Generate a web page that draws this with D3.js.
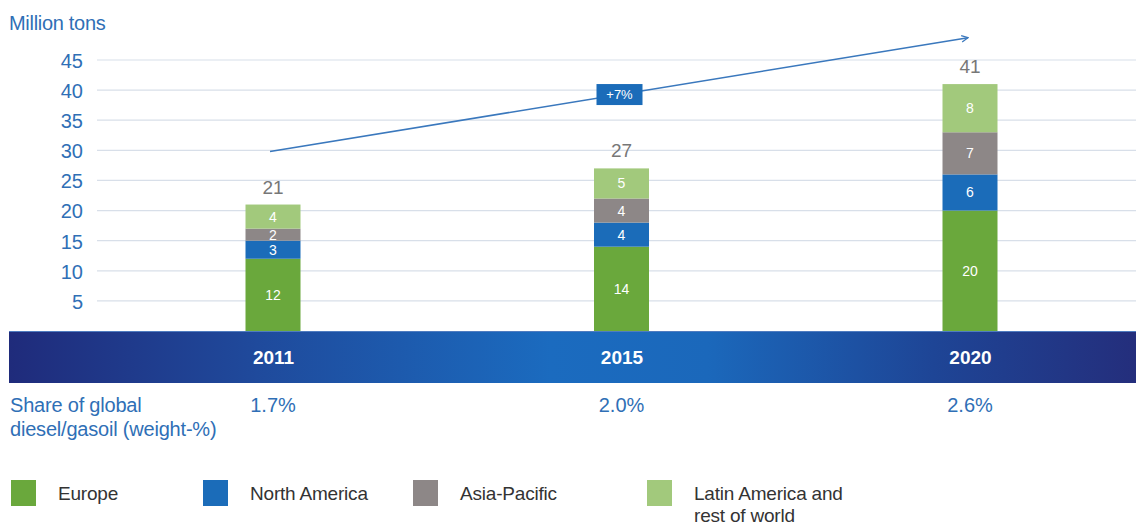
<!DOCTYPE html>
<html>
<head>
<meta charset="utf-8">
<script src="https://cdn.jsdelivr.net/npm/d3@7"></script>
<style>
  html, body { margin: 0; padding: 0; background: #fff; }
  svg { display: block; font-family: "Liberation Sans", Arial, sans-serif; }
</style>
</head>
<body>
<svg id="chart" width="1136" height="525"></svg>
<script>
// Demand by region, million tons
const years = ["2011", "2015", "2020"];
const europe = [12, 14, 20];
const northAmerica = [3, 4, 6];
const asiaPacific = [2, 4, 7];
const latinAmerica = [4, 5, 8];
const totals = [21, 27, 41];
const shares = ["1.7%", "2.0%", "2.6%"];
const yTicks = [5, 10, 15, 20, 25, 30, 35, 40, 45];
const seriesNames = ["Europe", "North America", "Asia-Pacific", "Latin America and rest of world"];
const seriesColors = ["#6aa83c", "#1b6cb9", "#8d8787", "#a2c97c"];
const growthLabel = "+7%";

const svg = d3.select("#chart");
const W = 1136;
const FONT = "Liberation Sans, Arial, sans-serif";

const x = d3.scalePoint().domain(years).range([273, 970]);
const y = d3.scaleLinear().domain([0, 45]).range([331, 60]);
const barW = 55;

// Gridlines
svg.append("g").selectAll("line").data(yTicks).join("line")
  .attr("x1", 97).attr("x2", W)
  .attr("y1", d => y(d)).attr("y2", d => y(d))
  .attr("stroke", "#d8dfe9").attr("stroke-width", 1.2);

// Y axis tick labels
const yAxis = d3.axisLeft(y).tickValues(yTicks).tickSize(0).tickPadding(0);
const gy = svg.append("g").attr("transform", "translate(83,1)").call(yAxis);
gy.select(".domain").remove();
gy.selectAll("text")
  .attr("fill", "#2f6fb6").attr("font-size", 20)
  .attr("font-family", FONT);

svg.append("text").attr("x", 9).attr("y", 30)
  .attr("fill", "#2f6fb6").attr("font-size", 20).attr("letter-spacing", -0.3)
  .text("Million tons");

// Stacked bars
const rows = years.map((yr, i) => ({
  year: yr,
  "Europe": europe[i],
  "North America": northAmerica[i],
  "Asia-Pacific": asiaPacific[i],
  "Latin America and rest of world": latinAmerica[i]
}));
const stacked = d3.stack().keys(seriesNames)(rows);

const layers = svg.append("g").selectAll("g").data(stacked).join("g")
  .attr("fill", (d, i) => seriesColors[i]);
layers.selectAll("rect").data(d => d).join("rect")
  .attr("x", d => x(d.data.year) - barW / 2)
  .attr("width", barW)
  .attr("y", d => y(d[1]))
  .attr("height", d => y(d[0]) - y(d[1]));

layers.selectAll("text").data(d => d).join("text")
  .attr("x", d => x(d.data.year))
  .attr("y", d => (y(d[0]) + y(d[1])) / 2 + 5)
  .attr("text-anchor", "middle")
  .attr("fill", "#fff").attr("font-size", 14)
  .text(d => d[1] - d[0]);

// Totals
svg.append("g").selectAll("text").data(years).join("text")
  .attr("x", d => x(d))
  .attr("y", (d, i) => y(totals[i]) - 11)
  .attr("text-anchor", "middle")
  .attr("fill", "#777").attr("font-size", 19)
  .text((d, i) => totals[i]);

// Growth arrow
const defs = svg.append("defs");
defs.append("marker").attr("id", "arrowHead")
  .attr("viewBox", "0 0 10 10").attr("refX", 9).attr("refY", 5)
  .attr("markerWidth", 8).attr("markerHeight", 8)
  .attr("markerUnits", "userSpaceOnUse")
  .attr("orient", "auto")
  .append("path").attr("d", "M1,1 L9,5 L1,9")
  .attr("fill", "none").attr("stroke", "#3a78bd").attr("stroke-width", 1.6);

const ax1 = x("2011") - 3, ay1 = y(29.8);
const ax2 = x("2020") - 2, ay2 = y(48.7);
svg.append("line")
  .attr("x1", ax1).attr("y1", ay1).attr("x2", ax2).attr("y2", ay2)
  .attr("stroke", "#3a78bd").attr("stroke-width", 1.6)
  .attr("marker-end", "url(#arrowHead)");

// Growth label box on the arrow
const gx = x("2015") - 2;
const gyPos = ay1 + (ay2 - ay1) * (gx - ax1) / (ax2 - ax1);
svg.append("rect")
  .attr("x", gx - 23).attr("y", gyPos - 10.5)
  .attr("width", 46).attr("height", 21)
  .attr("fill", "#1b6cb9");
svg.append("text").attr("x", gx).attr("y", gyPos + 4.5)
  .attr("text-anchor", "middle").attr("fill", "#fff").attr("font-size", 13)
  .text(growthLabel);

// Year band
const grad = defs.append("linearGradient").attr("id", "bandGrad")
  .attr("x1", "0%").attr("x2", "100%").attr("y1", "0%").attr("y2", "0%");
grad.append("stop").attr("offset", "0%").attr("stop-color", "#1f2b7b");
grad.append("stop").attr("offset", "22%").attr("stop-color", "#1f4a9c");
grad.append("stop").attr("offset", "48%").attr("stop-color", "#1b6bbf");
grad.append("stop").attr("offset", "62%").attr("stop-color", "#1b68bb");
grad.append("stop").attr("offset", "82%").attr("stop-color", "#1e4596");
grad.append("stop").attr("offset", "100%").attr("stop-color", "#242e7c");

svg.append("rect").attr("x", 9).attr("y", 331).attr("width", W - 9).attr("height", 52)
  .attr("fill", "url(#bandGrad)");
svg.append("line").attr("x1", 9).attr("x2", W).attr("y1", 331.5).attr("y2", 331.5)
  .attr("stroke", "#4f7cc0").attr("stroke-width", 1);

const xAxis = d3.axisBottom(x).tickSize(0).tickPadding(0);
const gxAxis = svg.append("g").attr("transform", "translate(0,350)").call(xAxis);
gxAxis.select(".domain").remove();
gxAxis.selectAll("text")
  .attr("fill", "#fff").attr("font-size", 19).attr("font-weight", "bold")
  .attr("font-family", FONT);

// Share row
svg.append("text").attr("x", 10).attr("y", 412)
  .attr("fill", "#2f6fb6").attr("font-size", 20).attr("letter-spacing", -0.2)
  .text("Share of global");
svg.append("text").attr("x", 10).attr("y", 436)
  .attr("fill", "#2f6fb6").attr("font-size", 20).attr("letter-spacing", -0.2)
  .text("diesel/gasoil (weight-%)");
svg.append("g").selectAll("text").data(years).join("text")
  .attr("x", d => x(d)).attr("y", 412)
  .attr("text-anchor", "middle")
  .attr("fill", "#2f6fb6").attr("font-size", 20)
  .text((d, i) => shares[i]);

// Legend
const legendX = [11, 203, 413, 647];
const leg = svg.append("g").selectAll("g").data(seriesNames).join("g")
  .attr("transform", (d, i) => `translate(${legendX[i]},480)`);
leg.append("rect").attr("width", 25).attr("height", 26)
  .attr("fill", (d, i) => seriesColors[i]);
leg.each(function(d) {
  const g = d3.select(this);
  const lines = d === "Latin America and rest of world" ? ["Latin America and", "rest of world"] : [d];
  lines.forEach((t, j) => {
    g.append("text").attr("x", 47).attr("y", 20 + j * 22)
      .attr("fill", "#333").attr("font-size", 19).attr("letter-spacing", -0.2)
      .text(t);
  });
});
</script>
</body>
</html>
